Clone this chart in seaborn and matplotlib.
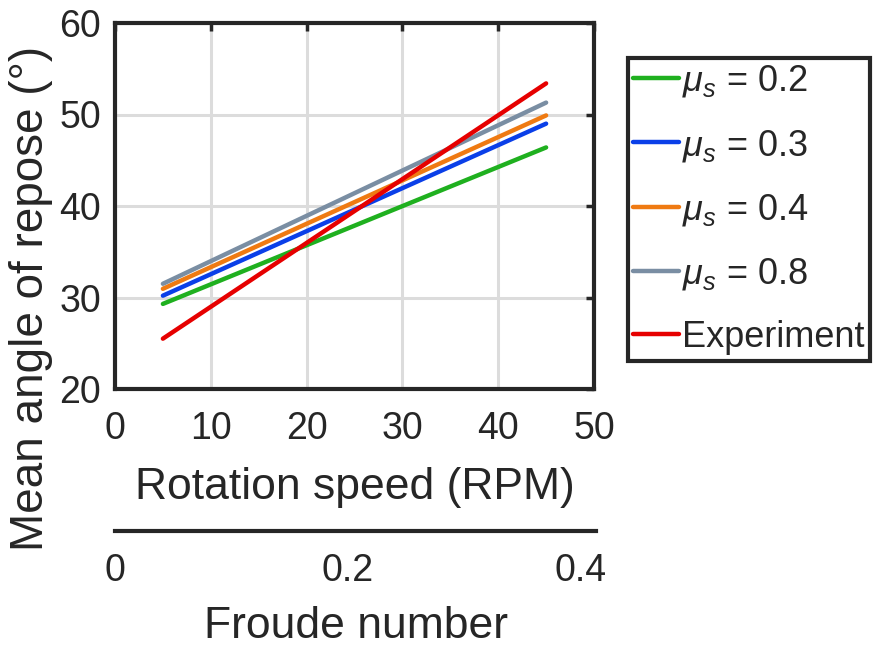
import matplotlib
matplotlib.use("Agg")
import matplotlib.pyplot as plt
import seaborn as sns
import pandas as pd

# ---- data ----
rpm = [5, 45]
mu02 = [29.3, 46.4]
mu03 = [30.2, 49.0]
mu04 = [30.95, 49.9]
mu08 = [31.5, 51.3]
experiment = [25.5, 53.4]
series_names = [r"$\mu_s$ = 0.2", r"$\mu_s$ = 0.3", r"$\mu_s$ = 0.4", r"$\mu_s$ = 0.8", "Experiment"]
colors = ["#1fb01f", "#0a3fe8", "#ef7a12", "#7a8ea3", "#e60000"]
x_ticks = [0, 10, 20, 30, 40, 50]
y_ticks = [20, 30, 40, 50, 60]
froude_ticks = [0, 0.2, 0.4]
froude_max = 0.4129

sns.set_style("white")
plt.rcParams["font.family"] = ["Liberation Sans", "DejaVu Sans"]
plt.rcParams["mathtext.fontset"] = "custom"
plt.rcParams["mathtext.rm"] = "Liberation Sans"
plt.rcParams["mathtext.it"] = "Liberation Sans:italic"

rows = []
for name, vals in zip(series_names, [mu02, mu03, mu04, mu08, experiment]):
    for x, y in zip(rpm, vals):
        rows.append({"rpm": x, "angle": y, "series": name})
df = pd.DataFrame(rows)

W, H = 877, 647
TXT = "#262626"
fig = plt.figure(figsize=(W / 100, H / 100), dpi=100)
ax = fig.add_axes([115 / W, 1 - 389 / H, (594 - 115) / W, (389 - 23) / H])

sns.lineplot(data=df, x="rpm", y="angle", hue="series", hue_order=series_names,
             palette=colors, linewidth=3.2, ax=ax, legend=True)

ax.set_xlim(0, 50)
ax.set_ylim(20, 60)
ax.set_xticks(x_ticks)
ax.set_yticks(y_ticks)
ax.grid(True, color="#dcdcdc", linewidth=2.2)
ax.set_axisbelow(True)
for s in ax.spines.values():
    s.set_linewidth(3)
    s.set_color(TXT)
    s.set_visible(True)
ax.tick_params(direction="in", length=6, width=2.5, color=TXT,
               top=True, right=True, labelsize=27, labelcolor=TXT)
ax.tick_params(axis="x", pad=16)
ax.tick_params(axis="y", pad=10)
ax.set_xlabel("Rotation speed (RPM)", fontsize=32, color=TXT, labelpad=14)
ylab = ax.set_ylabel("Mean angle of repose (°)", fontsize=33, color=TXT)
ylab.set_va("center")
ylab.set_ha("center")
ax.yaxis.set_label_coords((31 - 115) / 479, (389 - 298) / 366)

leg = ax.legend(loc="upper left", bbox_to_anchor=(628 / W, 1 - 58 / H),
                bbox_transform=fig.transFigure, borderaxespad=0,
                fontsize=26, handlelength=1.25, handletextpad=0.1,
                labelspacing=0.78, frameon=True, fancybox=False,
                borderpad=0.15, framealpha=1)
leg.get_frame().set_edgecolor(TXT)
leg.get_frame().set_linewidth(3)
for line in leg.get_lines():
    line.set_linewidth(3.2)

# Froude number axis
ax2 = fig.add_axes([115 / W, 1 - 531 / H, (596 - 115) / W, 0.0001])
ax2.set_xlim(0, froude_max)
ax2.set_xticks(froude_ticks)
ax2.set_xticklabels(["0", "0.2", "0.4"])
ax2.set_yticks([])
for k in ["left", "right", "top"]:
    ax2.spines[k].set_visible(False)
ax2.spines["bottom"].set_linewidth(3)
ax2.spines["bottom"].set_color(TXT)
ax2.set_facecolor("none")
ax2.tick_params(axis="x", direction="in", length=6, width=2.5, color=TXT,
                labelsize=27, labelcolor=TXT, pad=16)
ax2.set_xlabel("Froude number", fontsize=32, color=TXT, labelpad=12)

fig.savefig("out.png", dpi=100)
